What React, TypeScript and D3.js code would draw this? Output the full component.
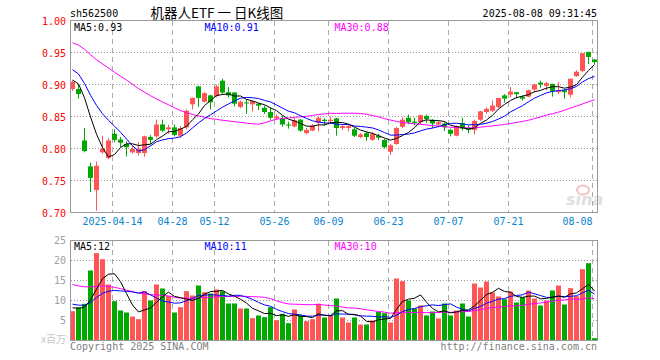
import React from "react";
import * as d3 from "d3";

// ---------- data ----------
const dates: string[] = [
  "2025-04-02","2025-04-03","2025-04-07","2025-04-08","2025-04-09","2025-04-10","2025-04-11","2025-04-14","2025-04-15","2025-04-16",
  "2025-04-17","2025-04-18","2025-04-21","2025-04-22","2025-04-23","2025-04-24","2025-04-25","2025-04-28","2025-04-29","2025-04-30",
  "2025-05-06","2025-05-07","2025-05-08","2025-05-09","2025-05-12","2025-05-13","2025-05-14","2025-05-15","2025-05-16","2025-05-19",
  "2025-05-20","2025-05-21","2025-05-22","2025-05-23","2025-05-26","2025-05-27","2025-05-28","2025-05-29","2025-05-30","2025-06-03",
  "2025-06-04","2025-06-05","2025-06-06","2025-06-09","2025-06-10","2025-06-11","2025-06-12","2025-06-13","2025-06-16","2025-06-17",
  "2025-06-18","2025-06-19","2025-06-20","2025-06-23","2025-06-24","2025-06-25","2025-06-26","2025-06-27","2025-06-30","2025-07-01",
  "2025-07-02","2025-07-03","2025-07-04","2025-07-07","2025-07-08","2025-07-09","2025-07-10","2025-07-11","2025-07-14","2025-07-15",
  "2025-07-16","2025-07-17","2025-07-18","2025-07-21","2025-07-22","2025-07-23","2025-07-24","2025-07-25","2025-07-28","2025-07-29",
  "2025-07-30","2025-07-31","2025-08-01","2025-08-04","2025-08-05","2025-08-06","2025-08-07","2025-08-08",
];

const opens: number[] = [
  0.893,0.893,0.8125,0.772,0.735,0.794,0.785,0.823,0.814,0.807,
  0.794,0.793,0.793,0.818,0.819,0.8375,0.830,0.833,0.820,0.833,
  0.869,0.897,0.873,0.883,0.882,0.906,0.888,0.8875,0.865,0.872,
  0.869,0.870,0.8635,0.857,0.847,0.847,0.8375,0.8344,0.845,0.824,
  0.828,0.840,0.845,0.843,0.847,0.832,0.832,0.830,0.818,0.824,
  0.8135,0.820,0.8135,0.795,0.807,0.834,0.848,0.842,0.841,0.851,
  0.845,0.8375,0.839,0.829,0.820,0.840,0.832,0.829,0.845,0.857,
  0.859,0.865,0.883,0.884,0.888,0.881,0.881,0.892,0.903,0.898,
  0.901,0.888,0.891,0.884,0.913,0.921,0.951,0.939,
];
const highs: number[] = [
  0.906,0.900,0.832,0.778,0.780,0.820,0.816,0.830,0.818,0.811,
  0.804,0.810,0.820,0.821,0.845,0.845,0.837,0.8375,0.835,0.861,
  0.880,0.898,0.888,0.884,0.8995,0.909,0.896,0.888,0.875,0.877,
  0.875,0.871,0.867,0.864,0.853,0.851,0.842,0.848,0.846,0.832,
  0.838,0.850,0.847,0.850,0.848,0.838,0.837,0.832,0.824,0.826,
  0.826,0.823,0.815,0.807,0.834,0.849,0.853,0.848,0.853,0.853,
  0.846,0.844,0.841,0.831,0.836,0.848,0.836,0.845,0.859,0.864,
  0.875,0.879,0.885,0.896,0.888,0.883,0.892,0.901,0.906,0.904,
  0.901,0.904,0.893,0.909,0.922,0.949,0.951,0.940,
];
const lows: number[] = [
  0.890,0.878,0.794,0.732,0.703,0.792,0.783,0.810,0.802,0.7875,
  0.792,0.789,0.787,0.807,0.817,0.8255,0.823,0.819,0.817,0.830,
  0.861,0.865,0.872,0.861,0.880,0.885,0.880,0.866,0.863,0.854,
  0.858,0.860,0.854,0.845,0.845,0.834,0.831,0.833,0.826,0.822,
  0.827,0.827,0.836,0.838,0.820,0.829,0.827,0.818,0.816,0.812,
  0.812,0.813,0.800,0.790,0.806,0.832,0.838,0.836,0.838,0.840,
  0.832,0.833,0.827,0.819,0.819,0.828,0.824,0.822,0.843,0.854,
  0.857,0.863,0.872,0.880,0.878,0.875,0.880,0.888,0.895,0.891,
  0.881,0.885,0.878,0.880,0.912,0.919,0.932,0.932,
];
const closes: number[] = [
  0.904,0.885,0.796,0.754,0.773,0.7995,0.8125,0.8135,0.809,0.802,
  0.7995,0.7995,0.819,0.8135,0.8375,0.828,0.833,0.821,0.832,0.859,
  0.879,0.879,0.8865,0.872,0.897,0.8875,0.883,0.870,0.873,0.871,
  0.874,0.867,0.857,0.848,0.850,0.8375,0.836,0.844,0.828,0.829,
  0.836,0.848,0.843,0.845,0.832,0.835,0.835,0.820,0.822,0.818,
  0.823,0.817,0.802,0.805,0.832,0.845,0.841,0.840,0.852,0.846,
  0.839,0.841,0.833,0.823,0.835,0.831,0.829,0.843,0.858,0.862,
  0.867,0.879,0.878,0.889,0.885,0.878,0.891,0.900,0.900,0.902,
  0.890,0.891,0.888,0.909,0.920,0.949,0.943,0.935,
];
// volume, millions
const volumes: number[] = [
  7.33,8.33,9.17,17.5,21.83,20.33,14.0,9.83,7.5,7.0,
  6.0,5.33,12.33,10.0,14.0,13.0,11.17,7.0,8.33,12.33,
  11.25,13.75,12.08,11.75,12.75,12.33,9.25,9.25,8.0,8.0,
  5.58,6.25,5.83,8.33,5.08,6.67,4.33,7.75,6.33,4.83,
  5.33,9.17,5.75,6.17,10.5,5.75,4.5,5.75,4.0,4.0,
  5.0,7.17,6.83,4.5,15.5,14.83,10.0,8.0,8.75,6.25,
  7.25,5.5,9.25,6.25,7.5,9.25,6.0,14.25,13.25,14.75,
  12.0,11.0,10.33,12.25,9.5,10.83,12.5,10.5,8.75,10.0,
  12.5,13.75,9.0,13.08,11.08,17.83,19.33,0.58,
];
// sessions before the visible window (needed for the moving averages)
const priorCloses: number[] = [
  0.985,0.998,1.005,1.012,0.995,1.003,1.010,0.992,0.985,0.996,
  1.002,0.990,0.978,0.985,0.972,0.968,0.960,0.965,0.958,0.961,
  0.950,0.945,0.938,0.932,0.930,0.915,0.905,0.903,0.908,
];
const priorVolumes: number[] = [
  18.5,16.2,19.0,17.8,15.9,18.2,17.0,16.5,18.8,17.3,
  16.1,17.5,16.8,15.2,17.1,15.6,16.3,15.0,12.8,11.6,
  10.8,9.6,10.5,9.2,9.9,8.9,7.8,8.6,8.2,
];

const dateTicks: string[] = ["2025-04-14","2025-04-28","2025-05-12","2025-05-26","2025-06-09","2025-06-23","2025-07-07","2025-07-21","2025-08-08"];
const priceTicks: number[] = [1.0, 0.95, 0.9, 0.85, 0.8, 0.75, 0.7];
const volTicks: number[] = [25, 20, 15, 10, 5];

// ---------- helpers ----------
function movingAverage(prior: number[], values: number[], n: number): number[] {
  const all = prior.concat(values);
  const off = prior.length;
  return values.map((_, i) => d3.mean(all.slice(off + i - n + 1, off + i + 1)) as number);
}

const RED = "#ff5555";
const GREEN = "#00a800";
const MONO = "'DejaVu Sans Mono', 'Liberation Mono', monospace";

export default function App() {
  const x = d3.scaleBand<string>().domain(dates).range([70, 598]).padding(0);
  const py = d3.scaleLinear().domain([0.7, 1.0]).range([212.5, 20.5]);
  const vy = d3.scaleLinear().domain([0, 25]).range([340.5, 240.5]);
  const cx = (i: number) => (x(dates[i]) as number) + 2.5;

  const ma5 = movingAverage(priorCloses, closes, 5);
  const ma10 = movingAverage(priorCloses, closes, 10);
  const ma30 = movingAverage(priorCloses, closes, 30);
  const vma5 = movingAverage(priorVolumes, volumes, 5);
  const vma10 = movingAverage(priorVolumes, volumes, 10);
  const vma30 = movingAverage(priorVolumes, volumes, 30);

  const pLine = d3.line<number>().x((_, i) => cx(i)).y((d) => py(d));
  const vLine = d3.line<number>().x((_, i) => cx(i)).y((d) => vy(d));
  const last = dates.length - 1;

  const up = (i: number) => closes[i] >= opens[i];

  return (
    <svg width={660} height={360} style={{ position: "absolute", left: 0, top: 0, background: "#fff" }}
      fontFamily={MONO} fontSize={10}>
      {/* header */}
      <text x={70} y={17} fill="#000">sh562500</text>
      <text x={150.5} y={17.5} fontFamily="'Noto Sans CJK SC', sans-serif" fontSize={13.5} fill="#000">机器人ETF 一 日K线图</text>
      <text x={597} y={17} textAnchor="end" fill="#000">2025-08-08 09:31:45</text>

      {/* sina watermark */}
      <g opacity={0.9}>
        <ellipse cx={583} cy={190} rx={6} ry={4.5} fill="none" stroke="#f3bcbc" strokeWidth={2} />
        <text x={566} y={205} fontFamily="'DejaVu Sans', sans-serif" fontStyle="italic" fontWeight="bold" fontSize={16} fill="#dcdcdc">sina</text>
      </g>

      {/* price grid */}
      {priceTicks.filter((t) => t < 0.999 && t > 0.701).map((t) => (
        <line key={"pg" + t} x1={71} x2={597} y1={py(t)} y2={py(t)} stroke="#999" strokeDasharray="1,2" />
      ))}
      {dateTicks.map((d) => (
        <line key={"pv" + d} x1={(x(d) as number) + 0.5} x2={(x(d) as number) + 0.5} y1={21} y2={212} stroke="#aaa" strokeDasharray="5,4" />
      ))}
      {priceTicks.map((t) => (
        <text key={"pt" + t} x={66} y={py(t) + 4} textAnchor="end" fill="#f00">{t.toFixed(2)}</text>
      ))}

      {/* candles */}
      {dates.map((d, i) => {
        const col = up(i) ? RED : GREEN;
        const x0 = x(d) as number;
        const top = py(Math.max(opens[i], closes[i]));
        const bot = py(Math.min(opens[i], closes[i]));
        return (
          <g key={"c" + d}>
            <line x1={x0 + 2.5} x2={x0 + 2.5} y1={py(highs[i])} y2={py(lows[i])} stroke={col} />
            <rect x={x0} y={top} width={5} height={Math.max(1, bot - top)} fill={col} />
          </g>
        );
      })}
      <path d={pLine(ma30) as string} fill="none" stroke="#ff00ff" />
      <path d={pLine(ma10) as string} fill="none" stroke="#0000ff" />
      <path d={pLine(ma5) as string} fill="none" stroke="#000" />
      <rect x={70.5} y={20.5} width={527} height={192} fill="none" stroke="#999" />

      {/* legends */}
      <text x={74} y={30.5} fill="#000">MA5:{ma5[last].toFixed(2)}</text>
      <text x={204.5} y={30.5} fill="#0000ff">MA10:{ma10[last].toFixed(2)}</text>
      <text x={334.5} y={30.5} fill="#ff00ff">MA30:{ma30[last].toFixed(2)}</text>

      {/* date labels */}
      {dateTicks.map((d, k) => {
        const gx = (x(d) as number) + 0.5;
        const label = k === 0 ? d : d.slice(5);
        const isLast = k === dateTicks.length - 1;
        return (
          <text key={"dl" + d} x={isLast ? gx : gx} y={225} textAnchor={isLast ? "end" : "middle"} fill="#0a84d0">{label}</text>
        );
      })}

      {/* volume panel */}
      {volTicks.filter((t) => t < 25).map((t) => (
        <line key={"vg" + t} x1={71} x2={597} y1={vy(t)} y2={vy(t)} stroke="#999" strokeDasharray="1,2" />
      ))}
      {dateTicks.map((d) => (
        <line key={"vv" + d} x1={(x(d) as number) + 0.5} x2={(x(d) as number) + 0.5} y1={241} y2={340} stroke="#aaa" strokeDasharray="5,4" />
      ))}
      {volTicks.map((t) => (
        <text key={"vt" + t} x={66} y={vy(t) + 3.5} textAnchor="end" fill="#a0a0a0">{t}</text>
      ))}
      <text x={66} y={343} textAnchor="end" fill="#c8c8c8" fontFamily="'Noto Sans CJK SC', sans-serif" fontSize={10}>x百万</text>
      {dates.map((d, i) => (
        <rect key={"v" + d} x={x(d) as number} y={vy(volumes[i])} width={5} height={340.5 - vy(volumes[i])} fill={up(i) ? RED : GREEN} />
      ))}
      <path d={vLine(vma30) as string} fill="none" stroke="#ff00ff" />
      <path d={vLine(vma10) as string} fill="none" stroke="#0000ff" />
      <path d={vLine(vma5) as string} fill="none" stroke="#000" />
      <rect x={70.5} y={240.5} width={527} height={100} fill="none" stroke="#999" />
      <text x={74} y={250} fill="#000">MA5:{Math.floor(vma5[last])}</text>
      <text x={204.5} y={250} fill="#0000ff">MA10:{Math.floor(vma10[last])}</text>
      <text x={334.5} y={250} fill="#ff00ff">MA30:{Math.floor(vma30[last])}</text>

      {/* footer */}
      <text x={70} y={349.5} fill="#808080">Copyright 2025 SINA.COM</text>
      <text x={597} y={349.5} textAnchor="end" fill="#808080">http://finance.sina.com.cn</text>
    </svg>
  );
}
